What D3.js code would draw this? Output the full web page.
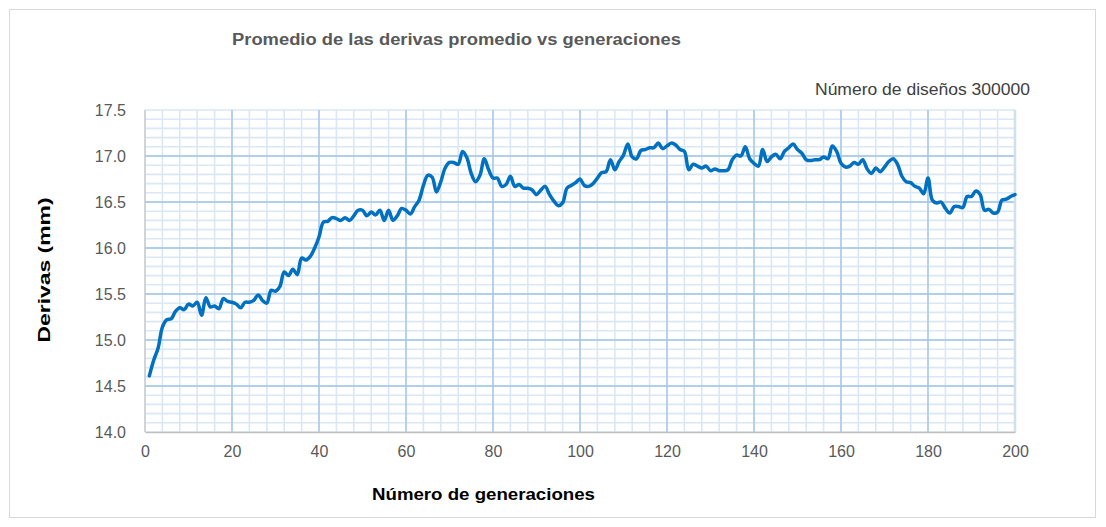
<!DOCTYPE html>
<html>
<head>
<meta charset="utf-8">
<script src="https://cdn.jsdelivr.net/npm/d3@7"></script>
<style>
  body { margin: 0; background: #fff; }
  text { font-family: "Liberation Sans", Arial, sans-serif; }
</style>
</head>
<body>
<div id="chart"></div>
<script>
// Width and height
var w = 1106;
var h = 527;
var margin = { top: 110, right: 91, bottom: 95, left: 145 };

// Data
var generaciones = d3.range(1, 201);
var derivas = [
  14.61, 14.78, 14.91, 15.14, 15.22, 15.23, 15.31, 15.35, 15.33, 15.39,
  15.37, 15.41, 15.27, 15.46, 15.36, 15.37, 15.34, 15.45, 15.42, 15.41,
  15.39, 15.35, 15.41, 15.41, 15.43, 15.49, 15.43, 15.40, 15.54, 15.53,
  15.58, 15.74, 15.70, 15.77, 15.71, 15.89, 15.87, 15.91, 16.00, 16.12,
  16.28, 16.29, 16.33, 16.32, 16.30, 16.33, 16.30, 16.35, 16.41, 16.41,
  16.35, 16.39, 16.36, 16.41, 16.30, 16.41, 16.30, 16.35, 16.43, 16.41,
  16.37, 16.45, 16.52, 16.68, 16.79, 16.77, 16.61, 16.72, 16.87, 16.93,
  16.93, 16.91, 17.05, 16.98, 16.81, 16.72, 16.79, 16.97, 16.85, 16.76,
  16.76, 16.67, 16.69, 16.78, 16.67, 16.69, 16.65, 16.65, 16.63, 16.58,
  16.63, 16.67, 16.58, 16.51, 16.46, 16.49, 16.65, 16.68, 16.71, 16.75,
  16.68, 16.67, 16.70, 16.76, 16.82, 16.83, 16.96, 16.85, 16.94, 17.01,
  17.13, 16.99, 16.97, 17.06, 17.07, 17.09, 17.09, 17.14, 17.08, 17.11,
  17.14, 17.12, 17.07, 17.05, 16.85, 16.91, 16.89, 16.87, 16.89, 16.84,
  16.86, 16.84, 16.84, 16.85, 16.96, 17.01, 17.00, 17.10, 16.97, 16.92,
  16.89, 17.07, 16.94, 16.99, 17.02, 16.97, 17.05, 17.09, 17.13, 17.07,
  17.03, 16.96, 16.95, 16.96, 16.96, 16.99, 16.97, 17.11, 17.05, 16.92,
  16.88, 16.89, 16.93, 16.91, 16.96, 16.86, 16.81, 16.87, 16.83, 16.88,
  16.94, 16.97, 16.91, 16.78, 16.72, 16.71, 16.67, 16.65, 16.59, 16.76,
  16.52, 16.49, 16.50, 16.43, 16.38, 16.45, 16.45, 16.44, 16.56, 16.56,
  16.62, 16.58, 16.41, 16.42, 16.38, 16.39, 16.52, 16.53, 16.56, 16.58
];
var xTicks = [0, 20, 40, 60, 80, 100, 120, 140, 160, 180, 200];
var yTicks = [14.0, 14.5, 15.0, 15.5, 16.0, 16.5, 17.0, 17.5];

var dataset = generaciones.map(function (g, i) { return [g, derivas[i]]; });

var svg = d3.select("#chart")
    .append("svg")
    .attr("width", w)
    .attr("height", h);

// Outer border
svg.append("rect")
    .attr("x", 9.5).attr("y", 9.5)
    .attr("width", w - 20).attr("height", h - 19)
    .attr("fill", "#fff")
    .attr("stroke", "#d9d9d9");

// Scales
var xScale = d3.scaleLinear()
    .domain([0, 200])
    .range([margin.left, w - margin.right]);

var yScale = d3.scaleLinear()
    .domain([14, 17.5])
    .range([h - margin.bottom, margin.top]);

// Minor grid
var grid = svg.append("g");
grid.selectAll("line.minx")
    .data(d3.range(0, 201, 4))
    .enter()
    .append("line")
    .attr("x1", function (d) { return xScale(d); })
    .attr("x2", function (d) { return xScale(d); })
    .attr("y1", yScale(14)).attr("y2", yScale(17.5))
    .attr("stroke", "#dae7f4")
    .attr("stroke-width", 1.6);

grid.selectAll("line.miny")
    .data(d3.range(0, 36).map(function (i) { return 14 + i / 10; }))
    .enter()
    .append("line")
    .attr("y1", function (d) { return yScale(d); })
    .attr("y2", function (d) { return yScale(d); })
    .attr("x1", xScale(0)).attr("x2", xScale(200))
    .attr("stroke", "#dae7f4")
    .attr("stroke-width", 1.6);

// Major grid
grid.selectAll("line.majx")
    .data(xTicks.slice(1, -1))
    .enter()
    .append("line")
    .attr("x1", function (d) { return xScale(d); })
    .attr("x2", function (d) { return xScale(d); })
    .attr("y1", yScale(14)).attr("y2", yScale(17.5))
    .attr("stroke", "#9fc4e6")
    .attr("stroke-width", 1.3);

grid.selectAll("line.majy")
    .data(yTicks.slice(1, -1))
    .enter()
    .append("line")
    .attr("y1", function (d) { return yScale(d); })
    .attr("y2", function (d) { return yScale(d); })
    .attr("x1", xScale(0)).attr("x2", xScale(200))
    .attr("stroke", "#9fc4e6")
    .attr("stroke-width", 1.3);

// Plot edges
grid.append("line")
    .attr("x1", xScale(200)).attr("x2", xScale(200))
    .attr("y1", yScale(14)).attr("y2", yScale(17.5))
    .attr("stroke", "#cfe0f1").attr("stroke-width", 2.5);
grid.append("line")
    .attr("x1", xScale(0)).attr("x2", xScale(0))
    .attr("y1", yScale(14)).attr("y2", yScale(17.5))
    .attr("stroke", "#c8c8c8").attr("stroke-width", 1.3);

//Define axes
var xAxis = d3.axisBottom()
    .scale(xScale)
    .tickValues(xTicks)
    .tickSize(0)
    .tickPadding(14);

var yAxis = d3.axisLeft()
    .scale(yScale)
    .tickValues(yTicks)
    .tickFormat(d3.format(".1f"))
    .tickSize(0)
    .tickPadding(19);

var gx = svg.append("g")
    .attr("transform", "translate(0," + yScale(14) + ")")
    .call(xAxis);
gx.select(".domain").attr("stroke", "#bfbfbf").attr("stroke-width", 1.5);

var gy = svg.append("g")
    .attr("transform", "translate(" + xScale(0) + ",0)")
    .call(yAxis);
gy.select(".domain").remove();

svg.selectAll(".tick text")
    .attr("font-family", "Liberation Sans, Arial, sans-serif")
    .attr("font-size", 16)
    .attr("fill", "#595959");

// Line
var line = d3.line()
    .x(function (d) { return xScale(d[0]); })
    .y(function (d) { return yScale(d[1]); })
    .curve(d3.curveCatmullRom.alpha(0.5));

svg.append("path")
    .datum(dataset)
    .attr("d", line)
    .attr("fill", "none")
    .attr("stroke", "#0070c0")
    .attr("stroke-width", 3.5)
    .attr("stroke-linejoin", "round")
    .attr("stroke-linecap", "round");

// Texts
svg.append("text")
    .attr("x", 232).attr("y", 45)
    .attr("font-size", 16)
    .attr("font-weight", "bold")
    .attr("fill", "#595959")
    .attr("textLength", 449)
    .attr("lengthAdjust", "spacingAndGlyphs")
    .text("Promedio de las derivas promedio vs generaciones");

svg.append("text")
    .attr("x", 815).attr("y", 95)
    .attr("font-size", 16)
    .attr("fill", "#404040")
    .attr("textLength", 215)
    .attr("lengthAdjust", "spacingAndGlyphs")
    .text("Número de diseños 300000");

svg.append("text")
    .attr("x", 372).attr("y", 500)
    .attr("font-size", 16)
    .attr("font-weight", "bold")
    .attr("fill", "#000")
    .attr("textLength", 223)
    .attr("lengthAdjust", "spacingAndGlyphs")
    .text("Número de generaciones");

svg.append("text")
    .attr("transform", "translate(50,270) rotate(-90)")
    .attr("text-anchor", "middle")
    .attr("font-size", 16)
    .attr("font-weight", "bold")
    .attr("fill", "#000")
    .attr("textLength", 145)
    .attr("lengthAdjust", "spacingAndGlyphs")
    .text("Derivas (mm)");
</script>
</body>
</html>
